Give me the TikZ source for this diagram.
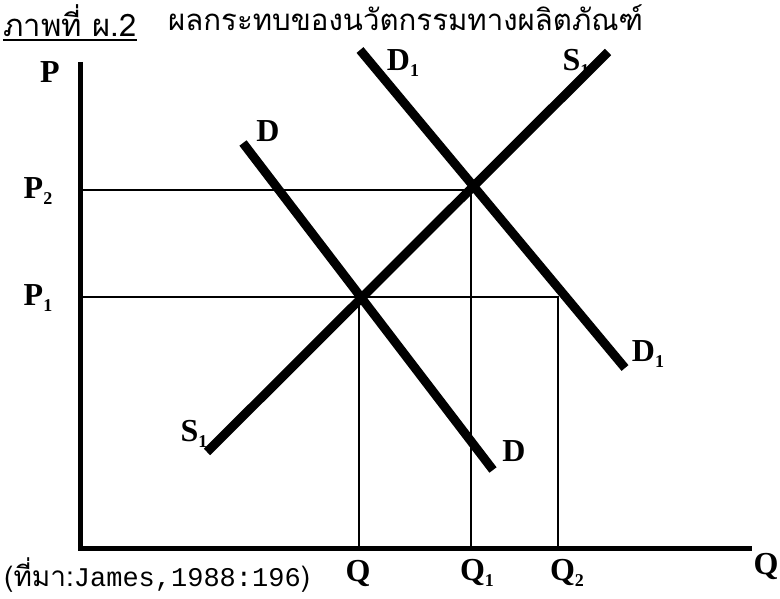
\documentclass[tikz,border=0pt]{standalone}
\usepackage{fontspec}
\setmainfont{Liberation Serif}
\newfontfamily\thaifont[Script=Thai]{Loma}
\newfontfamily\typefont{Liberation Mono}
\usetikzlibrary{positioning}
\newcommand{\lowsub}[1]{\raisebox{-0.4ex}{\fontsize{18}{18}\selectfont #1}}

\begin{document}
\begin{tikzpicture}[x=1pt, y=-1pt,
    every node/.style={inner sep=0pt},
    lab/.style={font=\bfseries\fontsize{32}{32}\selectfont},
    captext/.style={font=\thaifont\fontsize{29.4}{29.4}\selectfont, anchor=west},
    axis/.style={line width=5pt},
    curve/.style={line width=9pt},
    guide/.style={line width=1.1pt},
]
\useasboundingbox (0,0) rectangle (780,599);

% ================================================================ axes
\coordinate (ytop) at (80,62);
\coordinate (o)    at (80,548);
\coordinate (xend) at (752,548);
\draw[axis] (ytop) -- (o) -- (xend);

% ================================================================ points
\coordinate (p2) at (80,190);
\coordinate (p1) at (80,297);
\coordinate (e0) at (359,297);
\coordinate (e1) at (471,190);
\coordinate (e2) at (558,297);
\coordinate (q0) at (359,548);
\coordinate (q1) at (471,548);
\coordinate (q2) at (558,548);
\draw[guide] (p2) -- (e1) -- (q1);
\draw[guide] (p1) -- (e2) -- (q2);
\draw[guide] (e0) -- (q0);

% ================================================================ curves
\coordinate (da)  at (243,143);
\coordinate (db)  at (493,470);
\coordinate (sa)  at (207,452);
\coordinate (sb)  at (608,52);
\coordinate (d1a) at (360,50);
\coordinate (d1b) at (625,368);
\foreach \a/\b in {da/db, sa/sb, d1a/d1b}{ \draw[curve] (\a) -- (\b); }

% ================================================================ labels
\node[lab] (lP)   at (50,72)   {P};
\node[lab] (lP2)  at (38,191)  {P\lowsub{2}};
\node[lab] (lP1)  at (38,298)  {P\lowsub{1}};
\node[lab] (lQ)   at (358,573) {Q};
\node[lab] (lQ1)  at (477,573) {Q\lowsub{1}};
\node[lab] (lQ2)  at (567,573) {Q\lowsub{2}};
\node[lab] (lQx)  at (766,566) {Q};
\node[lab] (lDa)  at (268,131) {D};
\node[lab] (lDb)  at (514,451) {D};
\node[lab] (lD1a) at (403,63)  {D\lowsub{1}};
\node[lab] (lD1b) at (648,354) {D\lowsub{1}};
\node[lab] (lSa)  at (194,434) {S\lowsub{1}};
\node[lab] (lSb)  at (576,63)  {S\lowsub{1}};

% ================================================================ captions
\node[captext, font=\thaifont\fontsize{31}{31}\selectfont] (fig) at (3,21) {ภาพที่ ผ.2};
\draw[line width=1.5pt] (fig.south west) ++(0,3) coordinate (ul) -- (ul -| fig.east);
\node[captext] (ttl) at (168,18) {ผลกระทบของนวัตกรรมทางผลิตภัณฑ์};
\node[captext, font=\thaifont\fontsize{28}{28}\selectfont] (src) at (4,575)
    {(ที่มา:{\typefont\fontsize{27}{27}\selectfont James,1988:196})};
\end{tikzpicture}
\end{document}
